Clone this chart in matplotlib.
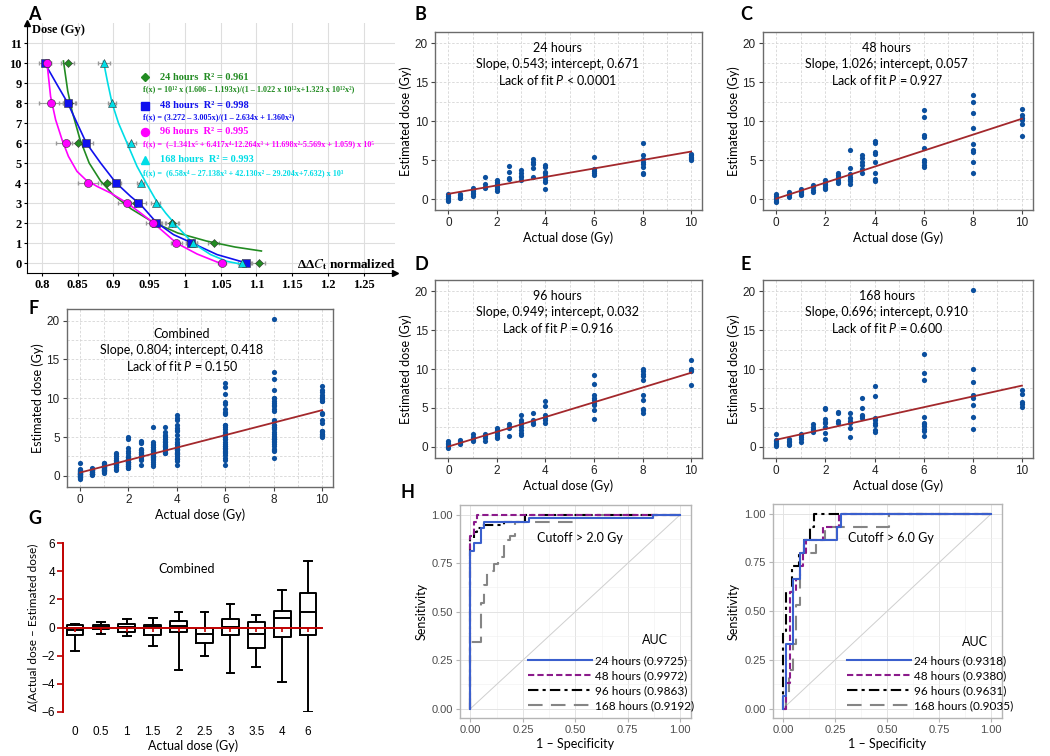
import numpy as np
import matplotlib.pyplot as plt

plt.rcParams['mathtext.fontset'] = 'custom'
plt.rcParams['mathtext.rm'] = 'Lato'
plt.rcParams['mathtext.it'] = 'Lato:italic'
plt.rcParams['mathtext.bf'] = 'Lato:bold'

SANS = 'Lato'
TICKF = 'Liberation Sans'
SERIF = ['Liberation Serif', 'DejaVu Serif']

# ===== DATA =====
# panel A: dose vs normalized ddCt
a_dose = [10, 8, 6, 4, 3, 2, 1, 0]
a_ddct_24 = [0.836, 0.838, 0.851, 0.891, 0.931, 0.982, 1.040, 1.103]
a_ddct_48 = [0.804, 0.836, 0.862, 0.903, 0.935, 0.960, 1.009, 1.086]
a_ddct_96 = [0.807, 0.813, 0.834, 0.865, 0.919, 0.956, 0.988, 1.052]
a_ddct_168 = [0.887, 0.898, 0.925, 0.938, 0.959, 0.982, 1.011, 1.080]
a_err_24 = [0.009, 0.008, 0.009, 0.008, 0.008, 0.010, 0.007, 0.009]
a_err_48 = [0.008, 0.012, 0.010, 0.008, 0.010, 0.008, 0.008, 0.006]
a_err_96 = [0.006, 0.017, 0.014, 0.014, 0.012, 0.010, 0.008, 0.006]
a_err_168 = [0.008, 0.006, 0.006, 0.005, 0.006, 0.009, 0.006, 0.006]

# fitted curves
fit24_x = [0.830, 0.836, 0.842, 0.853, 0.866, 0.882, 0.900, 0.925, 0.955, 0.990, 1.030, 1.070, 1.107]
fit24_y = [10.1, 8.6, 7.6, 6.2, 5.0, 4.1, 3.4, 2.7, 2.05, 1.5, 1.1, 0.8, 0.6]
fit48_x = [0.805, 0.821, 0.836, 0.849, 0.862, 0.882, 0.903, 0.924, 0.938, 0.960, 0.984, 1.010, 1.045, 1.089]
fit48_y = [9.92, 8.92, 8.0, 7.0, 6.0, 5.0, 4.03, 3.33, 2.92, 2.03, 1.42, 1.0, 0.42, -0.03]
fit96_x = [0.807, 0.812, 0.819, 0.828, 0.837, 0.849, 0.861, 0.877, 0.896, 0.919, 0.938, 0.956, 0.988, 1.017, 1.054]
fit96_y = [10.0, 8.33, 7.17, 6.17, 5.33, 4.58, 4.17, 3.83, 3.5, 3.0, 2.5, 2.0, 1.0, 0.45, -0.08]
fit168_x = [0.886, 0.892, 0.898, 0.907, 0.919, 0.933, 0.947, 0.959, 0.973, 0.989, 1.011, 1.036, 1.059, 1.082]
fit168_y = [10.08, 9.0, 8.0, 7.0, 6.0, 4.83, 3.92, 3.17, 2.5, 1.83, 1.0, 0.42, 0.08, -0.08]

a_xticks = [0.8, 0.85, 0.9, 0.95, 1.0, 1.05, 1.1, 1.15, 1.2, 1.25]
a_xticklabels = ['0.8', '0.85', '0.9', '0.95', '1', '1.05', '1.1', '1.15', '1.2', '1.25']

# panels B-F: estimated dose per actual dose
doses = [0, 0.5, 1, 1.5, 2, 2.5, 3, 3.5, 4, 6, 8, 10]
est_24 = [
    [0.6, 0.4, 0.2, 0.0, -0.1, -0.3],
    [0.7, 0.5, 0.3, 0.2, 0.1],
    [1.4, 1.2, 1.0, 0.8, 0.6, 0.4],
    [2.85, 2.0, 1.6, 1.4],
    [2.4, 2.2, 2.0, 1.8, 1.5, 1.3, 1.0],
    [4.2, 3.5, 2.75, 2.55],
    [3.75, 3.3, 3.0, 2.8, 2.4],
    [5.1, 4.8, 4.5, 3.95, 2.9],
    [4.4, 4.1, 3.5, 3.3, 3.0, 2.8, 2.5, 2.2, 1.35],
    [5.35, 3.8, 3.6, 3.4, 3.15],
    [7.15, 5.65, 5.1, 4.8, 4.45, 4.15, 3.4, 3.2],
    [5.8, 5.6, 5.45, 5.3, 5.1, 5.0],
]
est_48 = [
    [0.6, 0.4, 0.2, 0.0, -0.2, -0.35],
    [0.9, 0.7, 0.5, 0.3],
    [1.3, 1.1, 0.9, 0.7, 0.5],
    [1.75, 1.5, 1.2, 0.9],
    [2.4, 2.2, 2.0, 1.8, 1.6, 1.4, 1.25],
    [3.35, 3.1, 2.8, 2.5, 2.2, 2.05],
    [6.3, 4.0, 3.2, 2.9, 2.6, 2.3, 2.0],
    [5.65, 5.3, 4.7, 4.35, 3.8, 3.3],
    [7.5, 7.15, 6.1, 5.8, 4.8, 3.3, 2.6, 2.3],
    [11.5, 10.5, 8.25, 8.0, 6.5, 5.0, 4.7, 4.4, 4.15],
    [13.4, 12.5, 11.1, 9.15, 7.05, 6.3, 6.1, 4.7, 3.3],
    [11.6, 10.8, 10.4, 10.1, 9.7, 8.1],
]
est_96 = [
    [0.7, 0.5, 0.3, 0.1, 0.0, -0.2],
    [0.9, 0.7, 0.5, 0.3],
    [1.6, 1.3, 1.1, 0.9, 0.7],
    [1.7, 1.4, 1.1, 0.8],
    [2.4, 2.2, 2.0, 1.8, 1.5, 1.3, 1.15],
    [2.9, 2.6, 2.4, 1.4],
    [4.15, 3.5, 3.2, 2.9, 2.6, 2.2, 1.8, 1.5],
    [4.35, 3.4, 3.1, 2.9],
    [5.9, 5.25, 4.05, 3.75, 3.4, 3.1],
    [9.25, 8.1, 6.6, 6.3, 6.0, 5.65, 5.4, 4.7, 3.6],
    [10.0, 9.7, 9.4, 9.05, 8.65, 6.6, 6.0, 4.9, 4.7, 4.4],
    [11.1, 10.05, 9.85, 9.7, 8.0],
]
est_168 = [
    [1.6, 0.85, 0.7, 0.55, 0.4, 0.25, 0.1],
    [0.95, 0.8, 0.6, 0.4, 0.25],
    [1.7, 1.5, 1.3, 1.05, 0.65],
    [2.9, 2.6, 2.3, 2.1, 1.9],
    [5.0, 4.8, 3.6, 3.2, 3.0, 2.55, 1.8, 0.95],
    [4.45, 4.3, 3.35, 3.1],
    [4.4, 3.65, 3.35, 3.0, 2.45, 1.3],
    [6.3, 5.05, 4.05, 3.9, 3.65],
    [7.8, 6.55, 3.75, 3.5, 3.0, 2.85, 2.2, 1.95],
    [11.9, 9.5, 8.55, 3.85, 3.1, 2.9, 2.65, 2.35, 2.05, 1.35],
    [20.15, 10.05, 8.35, 6.6, 6.3, 5.35, 3.85, 2.35],
    [7.25, 6.75, 5.75, 5.45, 5.1],
]
fit_slope = {'24': 0.543, '48': 1.026, '96': 0.949, '168': 0.696, 'all': 0.804}
fit_icpt = {'24': 0.671, '48': 0.057, '96': 0.032, '168': 0.910, 'all': 0.418}
fit_lof = {'24': '< 0.0001', '48': '= 0.927', '96': '= 0.916', '168': '= 0.600', 'all': '= 0.150'}

# panel G: box stats of actual - estimated
g_labels = ['0', '0.5', '1', '1.5', '2', '2.5', '3', '3.5', '4', '6']
g_whislo = [-1.66, -0.45, -0.64, -1.35, -3.02, -2.0, -3.26, -2.85, -3.85, -5.99]
g_q1 = [-0.52, -0.12, -0.29, -0.55, -0.29, -1.12, -0.52, -1.47, -0.69, -0.52]
g_med = [-0.19, 0.04, 0.07, 0.05, 0.12, -0.45, 0.07, -0.48, 0.67, 1.14]
g_q3 = [0.17, 0.15, 0.24, 0.15, 0.48, 0.0, 0.62, 0.36, 1.21, 2.45]
g_whishi = [0.24, 0.36, 0.6, 0.71, 1.07, 1.07, 1.69, 0.86, 2.69, 4.75]

# panel H: ROC points (fpr, tpr)
roc2 = {
    '24': ([0, 0, 0.016, 0.048, 0.064, 0.28, 0.87, 1.0], [0, 0.812, 0.855, 0.929, 0.963, 0.983, 1.0, 1.0]),
    '48': ([0, 0, 0.016, 0.032, 1.0], [0, 0.89, 0.96, 1.0, 1.0]),
    '96': ([0, 0, 0.016, 0.032, 0.048, 0.16, 0.26, 1.0], [0, 0.88, 0.91, 0.93, 0.947, 0.963, 1.0, 1.0]),
    '168': ([0, 0, 0.048, 0.064, 0.08, 0.11, 0.13, 0.16, 0.19, 0.21, 0.49, 1.0],
            [0, 0.345, 0.545, 0.64, 0.71, 0.745, 0.78, 0.87, 0.89, 0.963, 1.0, 1.0]),
}
roc6 = {
    '24': ([0, 0, 0.016, 0.048, 0.08, 0.10, 0.26, 0.28, 1.0], [0, 0.067, 0.333, 0.667, 0.80, 0.867, 0.933, 1.0, 1.0]),
    '48': ([0, 0.016, 0.032, 0.064, 0.08, 0.095, 0.11, 0.19, 0.27, 1.0],
           [0, 0.133, 0.6, 0.667, 0.733, 0.80, 0.867, 0.933, 1.0, 1.0]),
    '96': ([0, 0, 0.016, 0.045, 0.075, 0.10, 0.13, 0.15, 1.0], [0, 0.4, 0.6, 0.733, 0.8, 0.867, 0.933, 1.0, 1.0]),
    '168': ([0, 0.016, 0.03, 0.048, 0.064, 0.08, 0.16, 0.20, 0.51, 1.0],
            [0, 0.067, 0.2, 0.333, 0.533, 0.8, 0.867, 0.933, 1.0, 1.0]),
}
auc2 = {'24': '0.9725', '48': '0.9972', '96': '0.9863', '168': '0.9192'}
auc6 = {'24': '0.9318', '48': '0.9380', '96': '0.9631', '168': '0.9035'}

# ===== FIGURE =====
W, H = 1050, 756
fig = plt.figure(figsize=(W / 100, H / 100), dpi=100)


def px_axes(x0, y0, x1, y1):
    return fig.add_axes([x0 / W, 1 - y1 / H, (x1 - x0) / W, (y1 - y0) / H])


def panel_letter(x, y, s):
    fig.text(x / W, 1 - y / H, s, fontsize=13, fontweight='bold', family=SANS, ha='left', va='center')


# ----- A -----
axA = px_axes(27, 23, 395, 273)
axA.set_xlim(0.779, 1.294)
axA.set_ylim(-0.5, 12)
axA.set_xticks(a_xticks)
axA.set_xticklabels(a_xticklabels)
axA.set_yticks(range(12))
for s in ['top', 'right']:
    axA.spines[s].set_visible(False)
axA.grid(True, color='#dedede', lw=0.8)
axA.set_axisbelow(True)
axA.tick_params(length=2, pad=2)
for lab in axA.get_xticklabels() + axA.get_yticklabels():
    lab.set_family(SERIF)
    lab.set_fontweight('bold')
    lab.set_fontsize(9)
axA.plot(1, 0, marker='>', color='k', ms=5, transform=axA.transAxes, clip_on=False)
axA.plot(0, 1, marker='^', color='k', ms=5, transform=axA.transAxes, clip_on=False)

series_a = [
    (a_ddct_24, a_err_24, fit24_x, fit24_y, '#228b22', 'D', 4.3, '24 hours  R² = 0.961',
     'f(x) = 10¹² x (1.606 – 1.193x)/(1 – 1.022 x 10¹²x+1.323 x 10¹²x²)'),
    (a_ddct_48, a_err_48, fit48_x, fit48_y, '#1010ee', 's', 5.5, '48 hours  R² = 0.998',
     'f(x) = (3.272 – 3.005x)/(1 – 2.634x + 1.360x²)'),
    (a_ddct_96, a_err_96, fit96_x, fit96_y, '#ff00ff', 'o', 5.8, '96 hours  R² = 0.995',
     'f(x) =  (–1.341x⁵ + 6.417x⁴-12.264x³ + 11.698x²-5.569x + 1.059) x 10⁵'),
    (a_ddct_168, a_err_168, fit168_x, fit168_y, '#00dde6', '^', 5.5, '168 hours  R² = 0.993',
     'f(x) =  (6.58x⁴ – 27.138x³ + 42.130x² – 29.204x+7.632) x 10³'),
]
leg_y = [0.784, 0.668, 0.564, 0.452]
form_y = [0.736, 0.624, 0.516, 0.400]
for i, (xv, ev, fx, fy, col, mk, ms, lab, form) in enumerate(series_a):
    axA.errorbar(xv, a_dose, xerr=ev, fmt='none', ecolor='#9a9a9a', elinewidth=0.8, capsize=1.5, zorder=2)
    axA.plot(fx, fy, color=col, lw=1.2, zorder=3)
    axA.plot(xv, a_dose, ls='none', marker=mk, ms=ms, color=col, mec='#333333', mew=0.4, zorder=4)
    axA.plot(0.3207, leg_y[i], ls='none', marker=mk, ms=ms, color=col, transform=axA.transAxes)
    axA.text(0.361, leg_y[i], lab, transform=axA.transAxes, color=col, family=SERIF,
             fontweight='bold', fontsize=7.5, va='center', ha='left')
    axA.text(0.315, form_y[i], form, transform=axA.transAxes, color=col, family=SERIF,
             fontweight='bold', fontsize=5.9, va='center', ha='left')

axA.text(0.014, 0.972, 'Dose (Gy)', transform=axA.transAxes, family=SERIF, fontweight='bold',
         fontsize=9, ha='left', va='center')
axA.text(1.0, 0.035, r'ΔΔ$\mathit{C}_{\mathbf{t}}$ normalized', transform=axA.transAxes, family=SERIF,
         fontweight='bold', fontsize=9.5, ha='right', va='center', math_fontfamily='stix')
panel_letter(28, 15, 'A')


# ----- B-F -----
def scatter_panel(rect, est, key):
    ax = px_axes(*rect)
    xs = np.concatenate([[d] * len(v) for d, v in zip(doses, est)])
    ys = np.concatenate(est)
    ax.scatter(xs, ys, s=14, color='#0b4f9e', zorder=3, linewidths=0)
    xl = np.array([0, 10])
    ax.plot(xl, fit_icpt[key] + fit_slope[key] * xl, color='#a3282c', lw=1.3, zorder=4)
    ax.set_xlim(-0.55, 10.45)
    ax.set_ylim(-1.4, 21.45)
    ax.set_xticks([0, 2, 4, 6, 8, 10])
    ax.set_yticks([0, 5, 10, 15, 20])
    ax.set_xticks([1, 3, 5, 7, 9], minor=True)
    ax.set_yticks([2.5, 7.5, 12.5, 17.5], minor=True)
    ax.grid(True, which='both', color='#d6d6d6', ls=(0, (3, 2)), lw=0.6)
    ax.set_axisbelow(True)
    for sp in ax.spines.values():
        sp.set_color('#6b6b6b')
        sp.set_linewidth(1.0)
    ax.tick_params(which='major', length=3, color='#444444', labelsize=8.5, labelcolor='#222222', pad=2)
    ax.tick_params(which='minor', length=0)
    for lab in ax.get_xticklabels() + ax.get_yticklabels():
        lab.set_family(TICKF)
    ax.set_xlabel('Actual dose (Gy)', family=SANS, fontsize=9, labelpad=2)
    ax.set_ylabel('Estimated dose (Gy)', family=SANS, fontsize=9, labelpad=2)
    return ax


panels = [
    ((435, 32, 702, 210), est_24, '24', '24 hours', 4.5, 19.4),
    ((762.7, 32, 1033, 210), est_48, '48', '48 hours', 4.5, 19.4),
    ((435, 280, 702, 457.7), est_96, '96', '96 hours', 4.5, 19.4),
    ((762.7, 280, 1033, 457.7), est_168, '168', '168 hours', 4.5, 19.4),
]
est_all = [sum((e[i] for e in [est_24, est_48, est_96, est_168]), []) for i in range(len(doses))]
panels.append(((66.7, 309.3, 333, 486.7), est_all, 'all', 'Combined', 4.2, 18.3))

for rect, est, key, title, tx, ty in panels:
    ax = scatter_panel(rect, est, key)
    ax.text(tx, ty, title, family=SANS, fontsize=9, ha='center', va='center')
    ax.text(tx, ty - 2.05, f'Slope, {fit_slope[key]:.3f}; intercept, {fit_icpt[key]:.3f}',
            family=SANS, fontsize=9, ha='center', va='center')
    ax.text(tx, ty - 4.1, f'Lack of fit $\\mathit{{P}}$ {fit_lof[key]}',
            family=SANS, fontsize=9, ha='center', va='center')

panel_letter(415, 15, 'B')
panel_letter(740, 15, 'C')
panel_letter(415, 265, 'D')
panel_letter(741, 265, 'E')
panel_letter(28, 309, 'F')

# ----- G -----
axG = px_axes(63.3, 543.3, 322.4, 711.7)
stats = [dict(whislo=a, q1=b, med=c, q3=d, whishi=e, label=l)
         for a, b, c, d, e, l in zip(g_whislo, g_q1, g_med, g_q3, g_whishi, g_labels)]
lp = dict(color='black', lw=1.4)
axG.bxp(stats, positions=range(len(g_labels)), widths=0.64, showfliers=False,
        boxprops=lp, medianprops=lp, whiskerprops=lp, capprops=lp, capwidths=0.3, zorder=3)
axG.set_xlim(-0.45, 9.55)
axG.set_ylim(-6, 6)
axG.set_yticks([-6, -4, -2, 0, 2, 4, 6])
axG.set_yticklabels(['−6', '−4', '−2', '0', '2', '4', '6'])
for s in ['top', 'right', 'bottom']:
    axG.spines[s].set_visible(False)
axG.spines['left'].set_color('#c00000')
axG.spines['left'].set_linewidth(1.4)
axG.tick_params(axis='y', color='#c00000', length=4, width=1.2, labelsize=8.5, pad=2)
axG.tick_params(axis='x', length=0, labelsize=8.5, pad=10)
for lab in axG.get_xticklabels() + axG.get_yticklabels():
    lab.set_family(TICKF)
# red zero axis carrying its own downward tick marks
zero_ax = axG.secondary_xaxis(0.5)
zero_ax.set_alignment('bottom')
zero_ax.set_xticks(range(len(g_labels)))
zero_ax.set_xticklabels([])
zero_ax.tick_params(axis='x', color='#c00000', length=3, width=1.2, direction='out')
for s in ['top', 'bottom']:
    zero_ax.spines[s].set_color('#c00000')
    zero_ax.spines[s].set_linewidth(1.4)
zero_ax.set_zorder(5)
axG.set_xlabel('Actual dose (Gy)', family=SANS, fontsize=9, labelpad=1)
axG.set_ylabel('Δ(Actual dose – Estimated dose)', family=SANS, fontsize=8.5, labelpad=2)
axG.text(4.31, 4.18, 'Combined', family=SANS, fontsize=9, ha='center', va='center')
panel_letter(28, 518, 'G')

# ----- H -----
roc_styles = {
    '24': dict(color='#3a5fcd', ls='-'),
    '48': dict(color='#8b1a8b', ls=(0, (3, 1.5))),
    '96': dict(color='black', ls=(0, (5, 2, 1.5, 2))),
    '168': dict(color='#858585', ls=(0, (7, 4))),
}
hours = ['24', '48', '96', '168']


def roc_panel(rect, roc, auc, cutoff, leg_x, auc_x, auc_y):
    ax = px_axes(*rect)
    ax.plot([0, 1], [0, 1], color='#cfcfcf', lw=0.7, zorder=1)
    for h in hours[::-1]:
        fpr, tpr = roc[h]
        ax.plot(fpr, tpr, drawstyle='steps-post', lw=1.5, zorder=3, **roc_styles[h])
    handles = [plt.Line2D([], [], lw=1.5, **roc_styles[h]) for h in hours]
    ax.set_xlim(-0.05, 1.05)
    ax.set_ylim(-0.05, 1.05)
    ticks = [0, 0.25, 0.5, 0.75, 1.0]
    ax.set_xticks(ticks)
    ax.set_yticks(ticks)
    ax.set_xticklabels(['0.00', '0.25', '0.50', '0.75', '1.00'])
    ax.set_yticklabels(['0.00', '0.25', '0.50', '0.75', '1.00'])
    ax.set_xticks([0.125, 0.375, 0.625, 0.875], minor=True)
    ax.set_yticks([0.125, 0.375, 0.625, 0.875], minor=True)
    ax.grid(True, which='major', color='#e3e3e3', lw=0.7)
    ax.grid(True, which='minor', color='#efefef', lw=0.4)
    ax.set_axisbelow(True)
    for sp in ax.spines.values():
        sp.set_color('#b5b5b5')
        sp.set_linewidth(1.0)
    ax.tick_params(which='major', length=3, color='#b5b5b5', labelsize=8, labelcolor='#4d4d4d', pad=2)
    ax.tick_params(which='minor', length=0)
    for lab in ax.get_xticklabels() + ax.get_yticklabels():
        lab.set_family(TICKF)
    ax.set_xlabel('1 – Specificity', family=SANS, fontsize=9, labelpad=2)
    ax.set_ylabel('Sensitivity', family=SANS, fontsize=9, labelpad=3)
    ax.text(0.52, 0.878, f'Cutoff > {cutoff} Gy', family=SANS, fontsize=9, ha='center', va='center')
    ax.legend(handles, [f'{h} hours ({auc[h]})' for h in hours],
              loc='lower left', bbox_to_anchor=(leg_x, 0.035), frameon=False, borderpad=0,
              handlelength=5.4, handletextpad=0.25, labelspacing=0.33, borderaxespad=0,
              prop=dict(family=SANS, size=8.5))
    ax.text(auc_x, auc_y, 'AUC', transform=ax.transAxes, family=SANS, fontsize=9, ha='right', va='center')
    return ax


roc_panel((460, 505, 690.7, 718.3), roc2, auc2, '2.0', 0.295, 0.90, 0.367)
roc_panel((772.7, 504, 1001.7, 718.3), roc6, auc6, '6.0', 0.3245, 0.94, 0.356)
panel_letter(400, 493, 'H')

fig.savefig('out.png', dpi=100)
